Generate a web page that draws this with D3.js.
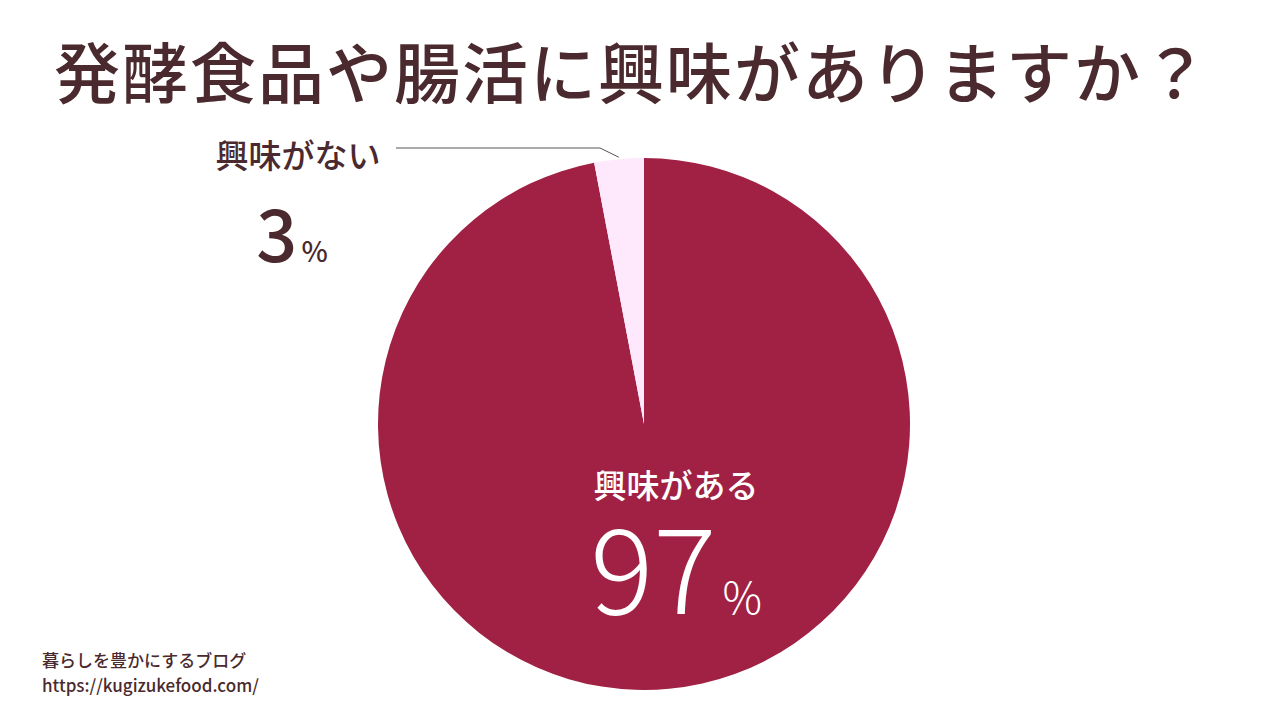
<!DOCTYPE html>
<html><head><meta charset="utf-8">
<script src="https://cdn.jsdelivr.net/npm/d3@7"></script>
<style>body{margin:0;background:#fff}svg{display:block}</style>
</head><body>
<svg id="c" width="1280" height="720"></svg>
<script>
const categories = ["興味がある", "興味がない"];
const values = [97, 3];
const colors = ["#a02144", "#fde9fb"];
const title = "発酵食品や腸活に興味がありますか？";

const svg = d3.select("#c");
const font = "'Noto Sans CJK JP', 'Noto Sans', sans-serif";
const txt = "#4a2a2e";
svg.append("text").attr("x", 632).attr("y", 98).attr("text-anchor", "middle")
  .attr("font-family", font).attr("font-size", 66).attr("font-weight", 500)
  .attr("letter-spacing", 2).attr("fill", txt).text(title);

const cx = 644, cy = 424, r = 266;
const pie = d3.pie().sort(null).value(d => d).startAngle(0).endAngle(2 * Math.PI);
const arcs = pie(values);
const arc = d3.arc().innerRadius(0).outerRadius(r);
const g = svg.append("g").attr("transform", `translate(${cx},${cy})`);
g.selectAll("path").data(arcs).join("path").attr("d", arc).attr("fill", (d, i) => colors[i]);

const small = arcs[1];
const mid = (small.startAngle + small.endAngle) / 2;
const p = [Math.sin(mid) * (r + 2) + cx, -Math.cos(mid) * (r + 2) + cy];
svg.append("polyline").attr("points", `396,148 600,148 ${p[0]},${p[1]}`)
  .attr("fill", "none").attr("stroke", "#555").attr("stroke-width", 1);

svg.append("text").attr("x", 298).attr("y", 168).attr("text-anchor", "middle")
  .attr("font-family", font).attr("font-size", 33).attr("font-weight", 500).attr("fill", txt).text(categories[1]);
const t3 = svg.append("text").attr("x", 292).attr("y", 262).attr("text-anchor", "middle")
  .attr("font-family", font).attr("font-weight", 500).attr("fill", txt);
t3.append("tspan").attr("font-size", 72).text(values[1]);
t3.append("tspan").attr("font-size", 28).attr("dx", 4).text("%");

svg.append("text").attr("x", 676).attr("y", 498).attr("text-anchor", "middle")
  .attr("font-family", font).attr("font-size", 33).attr("font-weight", 500).attr("fill", "#fff").text(categories[0]);
const t97 = svg.append("text").attr("x", 676).attr("y", 614).attr("text-anchor", "middle")
  .attr("font-family", font).attr("font-weight", 300).attr("fill", "#fff");
t97.append("tspan").attr("font-size", 118).text(values[0]);
t97.append("tspan").attr("font-size", 44).attr("dx", 6).text("%");

svg.append("text").attr("x", 42).attr("y", 667).attr("font-family", font).attr("font-size", 17).attr("font-weight", 500).attr("fill", txt).text("暮らしを豊かにするブログ");
svg.append("text").attr("x", 42).attr("y", 692).attr("font-family", font).attr("font-size", 17).attr("font-weight", 500).attr("fill", txt).text("https://kugizukefood.com/");
</script>
</body></html>
